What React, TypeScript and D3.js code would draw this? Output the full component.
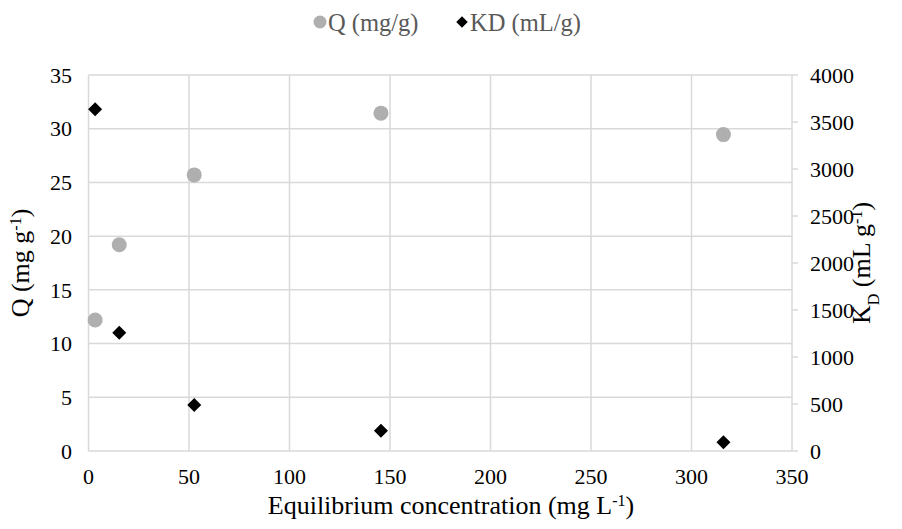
import React, { useEffect, useRef } from 'react';
import * as d3 from 'd3';

// equilibrium concentration (mg/L)
const concentration = [3.3, 15.3, 52.6, 145.5, 315.9];
const qValues = [12.2, 19.2, 25.7, 31.45, 29.45];
const kdValues = [3635, 1258, 489, 216, 92];

const xTicks = [0, 50, 100, 150, 200, 250, 300, 350];
const qTicks = [0, 5, 10, 15, 20, 25, 30, 35];
const kdTicks = [0, 500, 1000, 1500, 2000, 2500, 3000, 3500, 4000];

const W = 902;
const H = 529;
const FONT = "'Liberation Serif', 'Times New Roman', Times, serif";
const GRID = '#d9d9d9';
const Q_COLOR = '#afafaf';

const App = () => {
  const svgRef = useRef<SVGSVGElement>(null);

  useEffect(() => {
    const svg = d3.select(svgRef.current);
    svg.selectAll('*').remove();

    const left = 88.5, right = 792, top = 75, bottom = 451;

    const x = d3.scaleLinear().domain([0, 350]).range([left, right]);
    const yQ = d3.scaleLinear().domain([0, 35]).range([bottom, top]);
    const yKD = d3.scaleLinear().domain([0, 4000]).range([bottom, top]);

    // gridlines
    svg.append('g')
      .selectAll('line')
      .data(qTicks)
      .enter()
      .append('line')
      .attr('x1', left).attr('x2', right)
      .attr('y1', d => yQ(d)).attr('y2', d => yQ(d))
      .attr('stroke', GRID).attr('stroke-width', 1.5);

    svg.append('g')
      .selectAll('line')
      .data(xTicks)
      .enter()
      .append('line')
      .attr('x1', d => x(d)).attr('x2', d => x(d))
      .attr('y1', top).attr('y2', bottom)
      .attr('stroke', GRID).attr('stroke-width', 1.5);

    // right axis tick marks
    svg.append('g')
      .selectAll('line')
      .data(kdTicks)
      .enter()
      .append('line')
      .attr('x1', right).attr('x2', right + 6)
      .attr('y1', d => yKD(d)).attr('y2', d => yKD(d))
      .attr('stroke', GRID).attr('stroke-width', 1.5);

    // tick labels
    svg.append('g')
      .selectAll('text')
      .data(qTicks)
      .enter()
      .append('text')
      .attr('x', 72)
      .attr('y', d => yQ(d))
      .attr('dy', '0.35em')
      .attr('text-anchor', 'end')
      .attr('font-size', 22)
      .attr('fill', '#000')
      .text(d => d);

    svg.append('g')
      .selectAll('text')
      .data(kdTicks)
      .enter()
      .append('text')
      .attr('x', 810)
      .attr('y', d => yKD(d))
      .attr('dy', '0.35em')
      .attr('text-anchor', 'start')
      .attr('font-size', 22)
      .attr('fill', '#000')
      .text(d => d);

    svg.append('g')
      .selectAll('text')
      .data(xTicks)
      .enter()
      .append('text')
      .attr('x', d => x(d))
      .attr('y', 484)
      .attr('text-anchor', 'middle')
      .attr('font-size', 22)
      .attr('fill', '#000')
      .text(d => d);

    // axis titles
    const xTitle = svg.append('text')
      .attr('x', 451)
      .attr('y', 514)
      .attr('text-anchor', 'middle')
      .attr('font-size', 26)
      .attr('fill', '#000');
    xTitle.append('tspan').text('Equilibrium concentration (mg L');
    xTitle.append('tspan').attr('baseline-shift', 'super').attr('font-size', 16).text('-1');
    xTitle.append('tspan').text(')');

    const qTitle = svg.append('text')
      .attr('transform', `translate(29,${(top + bottom) / 2}) rotate(-90)`)
      .attr('text-anchor', 'middle')
      .attr('font-size', 26)
      .attr('fill', '#000');
    qTitle.append('tspan').text('Q (mg g');
    qTitle.append('tspan').attr('baseline-shift', 'super').attr('font-size', 16).text('-1');
    qTitle.append('tspan').text(')');

    const kdTitle = svg.append('text')
      .attr('transform', `translate(870,${(top + bottom) / 2}) rotate(-90)`)
      .attr('text-anchor', 'middle')
      .attr('font-size', 26)
      .attr('fill', '#000');
    kdTitle.append('tspan').text('K');
    kdTitle.append('tspan').attr('baseline-shift', 'sub').attr('font-size', 16).text('D');
    kdTitle.append('tspan').text(' (mL g');
    kdTitle.append('tspan').attr('baseline-shift', 'super').attr('font-size', 16).text('-1');
    kdTitle.append('tspan').text(')');

    // points
    const qData = concentration.map((c, i) => ({ c, v: qValues[i] }));
    const kdData = concentration.map((c, i) => ({ c, v: kdValues[i] }));

    svg.append('g')
      .selectAll('circle')
      .data(qData)
      .enter()
      .append('circle')
      .attr('cx', d => x(d.c))
      .attr('cy', d => yQ(d.v))
      .attr('r', 7.5)
      .attr('fill', Q_COLOR);

    const diamond = d3.symbol().type(d3.symbolDiamond2).size(125);
    svg.append('g')
      .selectAll('path')
      .data(kdData)
      .enter()
      .append('path')
      .attr('transform', d => `translate(${x(d.c)},${yKD(d.v)})`)
      .attr('d', diamond)
      .attr('fill', '#000');

    // legend
    const legend = svg.append('g').attr('transform', 'translate(0,22)');
    legend.append('circle').attr('cx', 320).attr('cy', 0).attr('r', 6.5).attr('fill', Q_COLOR);
    legend.append('text')
      .attr('x', 328).attr('y', 0).attr('dy', '0.35em')
      .attr('font-size', 24.5).attr('fill', '#595959')
      .text('Q (mg/g)');
    legend.append('path')
      .attr('transform', 'translate(462,0)')
      .attr('d', d3.symbol().type(d3.symbolDiamond2).size(85))
      .attr('fill', '#000');
    legend.append('text')
      .attr('x', 470).attr('y', 0).attr('dy', '0.35em')
      .attr('font-size', 24.5).attr('fill', '#595959')
      .text('KD (mL/g)');
  }, []);

  return (
    <svg
      ref={svgRef}
      width={W}
      height={H}
      fontFamily={FONT}
      style={{ position: 'absolute', left: 0, top: 0, background: '#fff', fontFamily: FONT }}
    />
  );
};

export default App;
